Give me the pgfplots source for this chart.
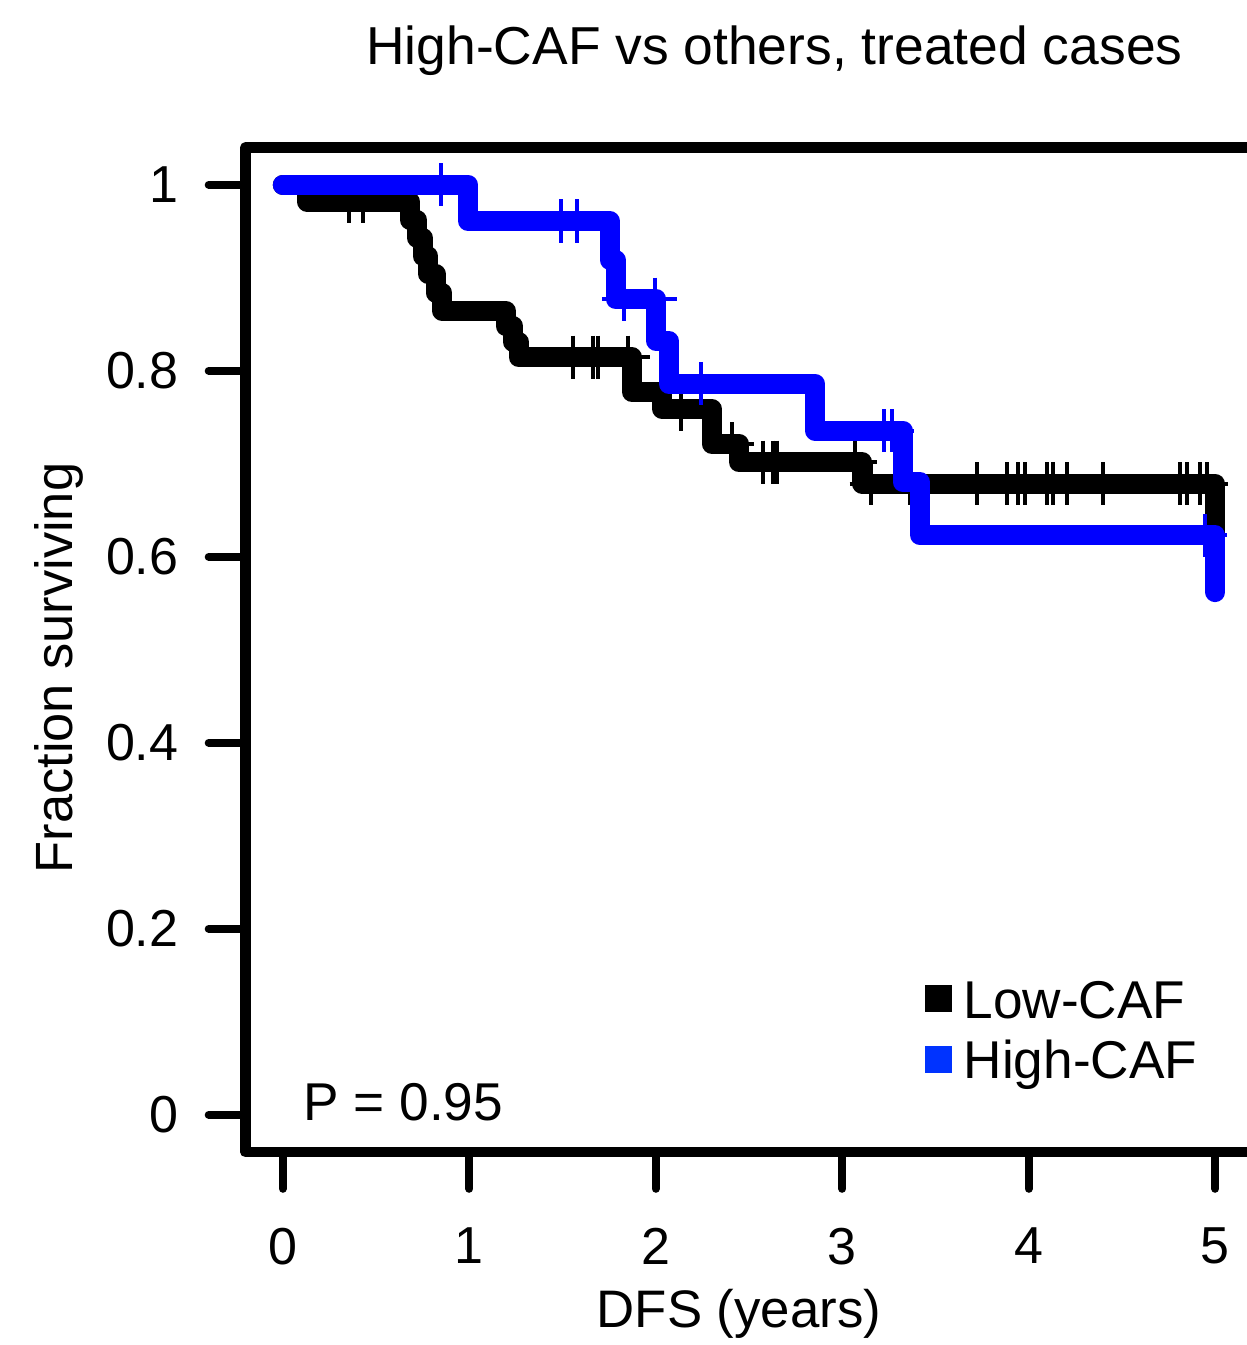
\documentclass[border=0pt]{standalone}
\usepackage{fontspec}
\setmainfont{Liberation Sans}
\usepackage{pgfplots}
\pgfplotsset{compat=1.18}
\definecolor{kmblue}{RGB}{0,0,255}
\definecolor{legblue}{RGB}{0,51,255}
\newcommand{\bigf}{\fontsize{13.3}{16}\selectfont}
\begin{document}
\begin{tikzpicture}[font=\fontsize{13}{15.6}\selectfont]
\begin{axis}[
  at={(61.375pt,48.25pt)}, anchor=south west,
  scale only axis, width=251.75pt, height=251.1pt,
  xmin=-0.2, xmax=5.2, ymin=-0.04, ymax=1.04,
  clip marker paths=true,
  xtick={0,1,2,3,4,5},
  ytick={0,0.2,0.4,0.6,0.8,1}, yticklabels={0,0.2,0.4,0.6,0.8,1},
  xtick pos=bottom, ytick pos=left, tick align=outside,
  major tick length=9.2pt,
  major tick style={line width=2pt, line cap=round, black},
  axis line style={line width=2.7pt, line join=round},
  /pgf/number format/assume math mode=true,
  xticklabel style={anchor=north, inner sep=0pt}, xticklabel shift=9.55pt,
  yticklabel style={anchor=east, inner sep=0pt}, yticklabel shift=7.4pt,
  legend style={at={(axis description cs:0.6748,0.1715)}, anchor=north west,
    draw=none, fill=none, inner sep=0pt, outer sep=0pt,
    row sep=2.6pt, column sep=2.9pt,
    nodes={inner sep=0pt, text height=9.7pt, text depth=2.75pt, font=\bigf}},
  legend cell align=left,
]
\addplot[black, line width=5pt, const plot, line cap=round, line join=round, mark=none,
  legend image code/.code={\fill[black,draw=none] (0pt,-1.95pt) rectangle (6.75pt,4.8pt);}]
  coordinates {
  (0,1) (0.13,0.982) (0.683,0.962) (0.72,0.943) (0.75,0.923) (0.78,0.904)
  (0.82,0.884) (0.855,0.8645) (1.195,0.848) (1.235,0.831) (1.265,0.8145)
  (1.873,0.777) (2.035,0.759) (2.30,0.7215) (2.447,0.7016) (3.108,0.6785)
  (5.0,0.625)
  };
\addplot[black, only marks, mark=+, mark size=5.4pt, mark options={line width=1pt}, forget plot]
  coordinates {
  (0.356,0.982) (0.43,0.982)
  (1.557,0.8145) (1.665,0.8145) (1.692,0.8145) (1.852,0.8145)
  (2.137,0.759) (2.41,0.7215)
  (2.575,0.7016) (2.63,0.7016) (2.65,0.7016) (3.07,0.7016)
  (3.155,0.6785) (3.365,0.6785) (3.72,0.6785) (3.885,0.6785) (3.945,0.6785)
  (3.98,0.6785) (4.10,0.6785) (4.13,0.6785) (4.205,0.6785) (4.40,0.6785)
  (4.81,0.6785) (4.85,0.6785) (4.92,0.6785) (4.955,0.6785)
  };
\addplot[kmblue, line width=5pt, const plot, line cap=round, line join=round, mark=none,
  legend image code/.code={\fill[legblue,draw=none] (0pt,-1.95pt) rectangle (6.75pt,4.8pt);}]
  coordinates {
  (0,1) (0.994,0.961) (1.753,0.919) (1.785,0.877) (2.003,0.832) (2.07,0.786)
  (2.855,0.7355) (3.326,0.68) (3.418,0.623) (5.0,0.562)
  };
\addplot[kmblue, only marks, mark=+, mark size=5.4pt, mark options={line width=1pt}, forget plot]
  coordinates {
  (0.849,1) (1.49,0.961) (1.578,0.961) (1.83,0.877) (1.997,0.877)
  (2.24,0.786) (3.225,0.7355) (3.267,0.7355) (4.945,0.623)
  };
\legend{Low-CAF,High-CAF}
\node[anchor=base west, inner sep=0pt, font=\bigf] at (axis cs:0.106,-0.00645) {P = 0.95};
\end{axis}
\node[anchor=base, inner sep=0pt, font=\fontsize{13.35}{16}\selectfont] at (193.6pt,320pt) {High-CAF vs others, treated cases};
\node[anchor=base, inner sep=0pt, font=\fontsize{13.2}{16}\selectfont] at (184.75pt,4.5pt) {DFS (years)};
\node[anchor=base, inner sep=0pt, rotate=90, font=\fontsize{13.1}{16}\selectfont] at (18pt,169.25pt) {Fraction surviving};
\pgfresetboundingbox
\path[use as bounding box] (0,0) rectangle (311.5pt,336.25pt);
\end{tikzpicture}
\end{document}
